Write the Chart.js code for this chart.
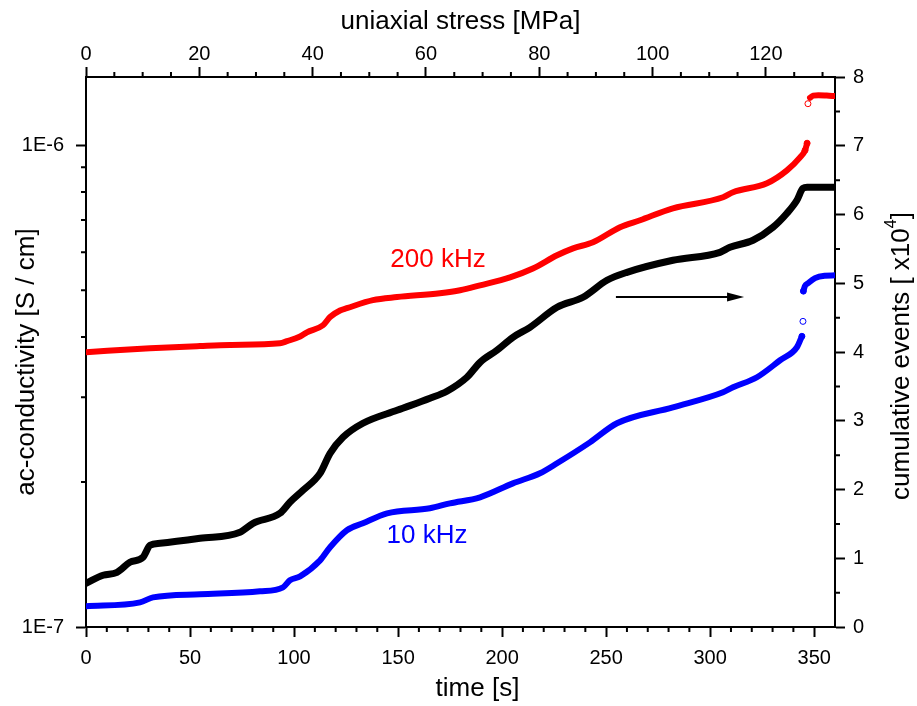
<!DOCTYPE html>
<html>
<head>
<meta charset="utf-8">
<script src="https://cdn.jsdelivr.net/npm/chart.js@4.4.1/dist/chart.umd.min.js"></script>
<style>
html, body { margin: 0; padding: 0; background: #fff; }
canvas { display: block; }
</style>
</head>
<body>
<canvas id="chart" width="917" height="706"></canvas>
<script>
// 200 kHz ac-conductivity [S/cm] vs time [s]
var redTime = [0, 30.8, 54.8, 69.2, 93.2, 96.6, 102.9, 106.2, 113.9, 117.3, 122.1, 125.4, 137.9, 149.5, 170.1, 179.8, 189.4, 203.8, 214.8, 226.4, 234.1, 243.7, 256.7, 266.3, 282.1, 306.2, 311.0, 327.3, 336.9, 343.2, 345.6, 346.6];
var redCond = [3.72e-7, 3.79e-7, 3.83e-7, 3.85e-7, 3.88e-7, 3.92e-7, 4.01e-7, 4.09e-7, 4.23e-7, 4.40e-7, 4.54e-7, 4.59e-7, 4.77e-7, 4.84e-7, 4.93e-7, 5.00e-7, 5.12e-7, 5.32e-7, 5.55e-7, 5.91e-7, 6.11e-7, 6.29e-7, 6.76e-7, 6.99e-7, 7.40e-7, 7.80e-7, 7.99e-7, 8.34e-7, 8.87e-7, 9.44e-7, 9.76e-7, 1.01e-6];
var redTopTime = [348.0, 349.5, 352.0, 356.0, 360.0];
var redTopCond = [1.255e-6, 1.268e-6, 1.270e-6, 1.268e-6, 1.265e-6];
var redDotTime = [345.6, 346.6, 347.0];
var redDotCond = [9.76e-7, 1.01e-6, 1.22e-6];

// 10 kHz ac-conductivity [S/cm] vs time [s]
var blueTime = [0, 26.0, 32.2, 54.8, 83.6, 94.7, 98.0, 102.9, 112.5, 117.3, 125.4, 133.1, 144.7, 165.3, 174.9, 189.4, 205.2, 218.2, 226.4, 242.2, 255.2, 282.1, 306.2, 311.0, 322.5, 333.6, 341.7, 344.1];
var blueCond = [1.104e-7, 1.125e-7, 1.152e-7, 1.169e-7, 1.186e-7, 1.209e-7, 1.250e-7, 1.274e-7, 1.375e-7, 1.464e-7, 1.588e-7, 1.642e-7, 1.722e-7, 1.764e-7, 1.806e-7, 1.859e-7, 1.987e-7, 2.085e-7, 2.187e-7, 2.417e-7, 2.648e-7, 2.858e-7, 3.071e-7, 3.145e-7, 3.300e-7, 3.579e-7, 3.808e-7, 4.013e-7];
var blueTopTime = [344.8, 345.5, 347.0, 350.4, 355.0, 360.0];
var blueTopCond = [4.98e-7, 5.10e-7, 5.17e-7, 5.30e-7, 5.36e-7, 5.37e-7];
var blueDotTime = [344.1, 344.6, 344.8];
var blueDotCond = [4.013e-7, 4.31e-7, 4.98e-7];

// cumulative events [x10^4] vs time [s]
var eventTime = [0, 8.2, 14.9, 21.1, 27.4, 30.8, 35.6, 54.8, 74.0, 80.3, 93.2, 98.0, 104.3, 112.5, 117.3, 123.5, 133.1, 149.5, 165.3, 173.5, 183.1, 189.4, 197.5, 205.2, 213.4, 226.4, 238.9, 250.4, 260.0, 282.1, 304.7, 309.5, 320.6, 330.2, 336.9, 341.7, 344.6, 346.6, 360.0];
var eventCount = [0.636, 0.752, 0.796, 0.941, 1.014, 1.188, 1.217, 1.29, 1.377, 1.508, 1.654, 1.814, 1.988, 2.235, 2.526, 2.759, 2.963, 3.152, 3.327, 3.429, 3.632, 3.850, 4.025, 4.214, 4.359, 4.650, 4.796, 5.043, 5.159, 5.334, 5.450, 5.523, 5.625, 5.814, 6.018, 6.207, 6.381, 6.396, 6.396];

// axis ticks
var timeTicks = [0, 50, 100, 150, 200, 250, 300, 350];
var stressTicks = [0, 20, 40, 60, 80, 100, 120];
var condTicks = [1e-7, 1e-6];
var condTickLabels = ['1E-7', '1E-6'];
var eventTicks = [0, 1, 2, 3, 4, 5, 6, 7, 8];

// in-plot labels and arrow
var labelText = ['200 kHz', '10 kHz'];
var labelTime = [169.2, 163.9];
var labelCond = [5.785e-7, 1.547e-7];
var arrowTime = [254.7, 316.3];
var arrowEvents = 4.80;

var FONT = '"Liberation Sans", Arial, Helvetica, sans-serif';
Chart.defaults.font.family = FONT;
Chart.defaults.color = '#000';

function pts(xs, ys) {
  return xs.map(function (x, i) { return { x: x, y: ys[i] }; });
}

function minorList(step, max, skip) {
  var out = [];
  for (var v = step; v < max - 1e-9; v += step) {
    if (Math.abs(v / skip - Math.round(v / skip)) > 1e-6) out.push(v);
  }
  return out;
}

var minorTicks = {
  id: 'minorTicks',
  afterDraw: function (chart) {
    var ctx = chart.ctx, a = chart.chartArea, s = chart.scales;
    ctx.save();
    ctx.strokeStyle = '#000';
    ctx.lineWidth = 2;
    ctx.beginPath();
    minorList(10, 360, 50).forEach(function (v) {
      var p = s.x.getPixelForValue(v);
      ctx.moveTo(p, a.bottom); ctx.lineTo(p, a.bottom + 5);
    });
    minorList(5, 132, 20).forEach(function (v) {
      var p = s.x2.getPixelForValue(v);
      ctx.moveTo(p, a.top); ctx.lineTo(p, a.top - 5);
    });
    [2, 3, 4, 5, 6, 7, 8, 9].forEach(function (m) {
      var p = s.y.getPixelForValue(m * 1e-7);
      ctx.moveTo(a.left, p); ctx.lineTo(a.left - 5, p);
    });
    minorList(0.5, 8, 1).forEach(function (v) {
      var p = s.y2.getPixelForValue(v);
      ctx.moveTo(a.right, p); ctx.lineTo(a.right + 5, p);
    });
    ctx.stroke();
    ctx.restore();
  }
};

var notes = {
  id: 'notes',
  afterDatasetsDraw: function (chart) {
    var ctx = chart.ctx, s = chart.scales;
    ctx.save();
    ctx.font = '26px ' + FONT;
    ctx.textAlign = 'center';
    ctx.textBaseline = 'middle';
    ctx.fillStyle = '#ff0000';
    ctx.fillText(labelText[0], s.x.getPixelForValue(labelTime[0]), s.y.getPixelForValue(labelCond[0]));
    ctx.fillStyle = '#0000ff';
    ctx.fillText(labelText[1], s.x.getPixelForValue(labelTime[1]), s.y.getPixelForValue(labelCond[1]));

    // arrow pointing to the right-hand axis
    var x0 = s.x.getPixelForValue(arrowTime[0]);
    var x1 = s.x.getPixelForValue(arrowTime[1]);
    var y = s.y2.getPixelForValue(arrowEvents);
    ctx.strokeStyle = '#000';
    ctx.fillStyle = '#000';
    ctx.lineWidth = 2;
    ctx.beginPath();
    ctx.moveTo(x0, y); ctx.lineTo(x1 - 14, y);
    ctx.stroke();
    ctx.beginPath();
    ctx.moveTo(x1, y); ctx.lineTo(x1 - 17, y - 4.5); ctx.lineTo(x1 - 17, y + 4.5);
    ctx.closePath();
    ctx.fill();
    ctx.restore();
  }
};

var axisTitles = {
  id: 'axisTitles',
  afterDraw: function (chart) {
    var ctx = chart.ctx, a = chart.chartArea;
    var big = '26px ' + FONT, sup = '16px ' + FONT;
    var midY = (a.top + a.bottom) / 2, midX = (a.left + a.right) / 2;
    ctx.save();
    ctx.fillStyle = '#000';
    ctx.font = big;
    ctx.textAlign = 'center';
    ctx.textBaseline = 'middle';
    ctx.fillText('uniaxial stress [MPa]', midX, 22);
    ctx.fillText('time [s]', midX + 17, 689);

    ctx.save();
    ctx.translate(27, midY + 10);
    ctx.rotate(-Math.PI / 2);
    ctx.fillText('ac-conductivity [S / cm]', 0, 0);
    ctx.restore();

    ctx.save();
    ctx.translate(902, midY + 4);
    ctx.rotate(-Math.PI / 2);
    ctx.textAlign = 'left';
    var t1 = 'cumulative events [ x10', t2 = '4', t3 = ']';
    ctx.font = big;
    var w1 = ctx.measureText(t1).width, w3 = ctx.measureText(t3).width;
    ctx.font = sup;
    var w2 = ctx.measureText(t2).width;
    var start = -(w1 + w2 + w3) / 2;
    ctx.font = big;
    ctx.fillText(t1, start, 0);
    ctx.font = sup;
    ctx.fillText(t2, start + w1, -10);
    ctx.font = big;
    ctx.fillText(t3, start + w1 + w2, 0);
    ctx.restore();

    ctx.restore();
  }
};

function axisBase(extra) {
  var base = {
    grid: { drawOnChartArea: false, drawTicks: true, tickLength: 10, tickWidth: 2, tickColor: '#000' },
    border: { display: true, color: '#000', width: 2 },
    title: { display: false }
  };
  return Object.assign(base, extra);
}

function lineSet(xs, ys, axis, color, width) {
  return {
    data: pts(xs, ys), yAxisID: axis, showLine: true,
    borderColor: color, borderWidth: width, pointRadius: 0,
    cubicInterpolationMode: 'monotone',
    borderCapStyle: 'round', borderJoinStyle: 'round'
  };
}

function dotSet(xs, ys, color) {
  return {
    data: pts(xs, ys), yAxisID: 'y', showLine: false,
    pointRadius: 3, pointBorderWidth: 1, pointBorderColor: color,
    pointBackgroundColor: '#ffffff'
  };
}

var ctx = document.getElementById('chart').getContext('2d');
var chart = new Chart(ctx, {
  type: 'scatter',
  data: {
    datasets: [
      lineSet(redTime, redCond, 'y', '#ff0000', 6),
      lineSet(redTopTime, redTopCond, 'y', '#ff0000', 6),
      dotSet(redDotTime, redDotCond, '#ff0000'),
      lineSet(eventTime, eventCount, 'y2', '#000000', 7),
      lineSet(blueTime, blueCond, 'y', '#0000ff', 6),
      lineSet(blueTopTime, blueTopCond, 'y', '#0000ff', 6),
      dotSet(blueDotTime, blueDotCond, '#0000ff')
    ]
  },
  options: {
    responsive: false,
    animation: false,
    layout: { padding: 0 },
    plugins: { legend: { display: false }, tooltip: { enabled: false } },
    scales: {
      x: axisBase({
        type: 'linear', position: 'bottom', min: 0, max: 360,
        afterBuildTicks: function (s) { s.ticks = timeTicks.map(function (v) { return { value: v }; }); },
        afterFit: function (s) { s.height = 79; },
        ticks: { font: { size: 20 }, color: '#000', padding: 9, maxRotation: 0, autoSkip: false }
      }),
      x2: axisBase({
        type: 'linear', position: 'top', min: 0, max: 132.2,
        afterBuildTicks: function (s) { s.ticks = stressTicks.map(function (v) { return { value: v }; }); },
        afterFit: function (s) { s.height = 77; },
        ticks: { font: { size: 20 }, color: '#000', padding: 1, maxRotation: 0, autoSkip: false }
      }),
      y: axisBase({
        type: 'logarithmic', position: 'left', min: 1e-7, max: 1.386e-6,
        afterBuildTicks: function (s) { s.ticks = condTicks.map(function (v) { return { value: v }; }); },
        afterFit: function (s) { s.width = 86; },
        ticks: {
          font: { size: 20 }, color: '#000', padding: 12, autoSkip: false,
          callback: function (v) {
            var i = condTicks.indexOf(v);
            return i >= 0 ? condTickLabels[i] : '';
          }
        }
      }),
      y2: axisBase({
        type: 'linear', position: 'right', min: 0, max: 8,
        afterBuildTicks: function (s) { s.ticks = eventTicks.map(function (v) { return { value: v }; }); },
        afterFit: function (s) { s.width = 82; },
        ticks: { font: { size: 20 }, color: '#000', padding: 8, autoSkip: false }
      })
    }
  },
  plugins: [minorTicks, notes, axisTitles]
});
</script>
</body>
</html>
